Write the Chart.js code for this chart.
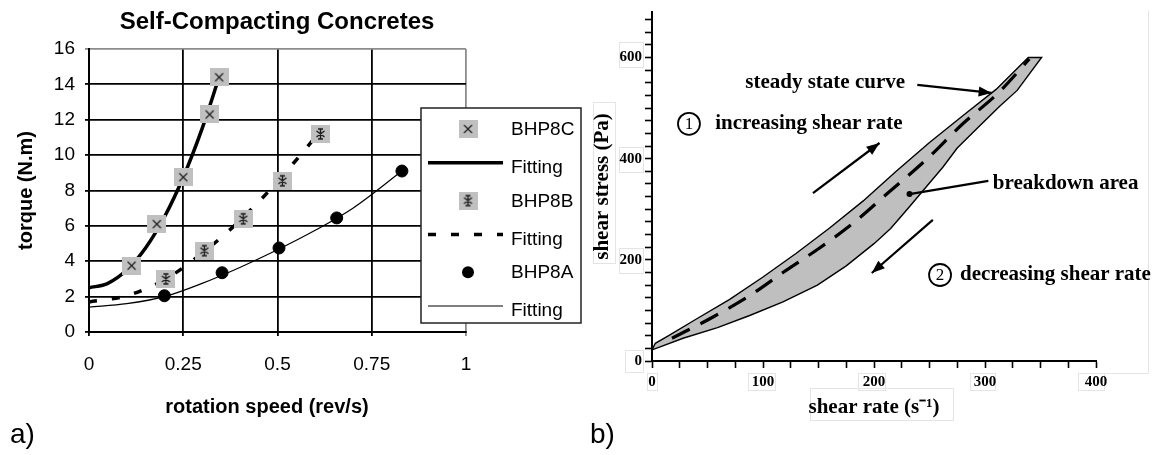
<!DOCTYPE html>
<html>
<head>
<meta charset="utf-8">
<script src="https://cdn.jsdelivr.net/npm/chart.js@4.4.1/dist/chart.umd.min.js"></script>
<style>
  body { margin: 0; background: #fff; width: 1162px; height: 455px; overflow: hidden; position: relative; }
  canvas { position: absolute; top: 0; }
  #rheo { left: 0; }
  #hyst { left: 585px; }
  .tag { position: absolute; top: 420px; font: 28px/28px "Liberation Sans", Arial, sans-serif; color: #000; }
</style>
</head>
<body>
<canvas id="rheo" width="590" height="455"></canvas>
<canvas id="hyst" width="577" height="455"></canvas>
<div class="tag" style="left:10px">a)</div>
<div class="tag" style="left:590px">b)</div>
<script>
// a) torque against rotation speed for the three SCC mixes
const speedC = [0.113, 0.18, 0.25, 0.32, 0.345];
const torqueC = [3.75, 6.1, 8.75, 12.3, 14.4];
const speedB = [0.204, 0.306, 0.409, 0.513, 0.614];
const torqueB = [3.0, 4.6, 6.4, 8.55, 11.2];
const speedA = [0.2, 0.353, 0.504, 0.657, 0.83];
const torqueA = [2.05, 3.35, 4.75, 6.45, 9.1];

// fitted curves
const fitSpeedC = [0, 0.05, 0.1, 0.15, 0.2, 0.25, 0.3, 0.345];
const fitTorqueC = [2.5, 2.75, 3.5, 4.75, 6.5, 8.75, 11.5, 14.4];
const fitSpeedB = [0, 0.1, 0.2, 0.3, 0.4, 0.5, 0.6];
const fitTorqueB = [1.7, 2.05, 2.95, 4.45, 6.3, 8.5, 11.0];
const fitSpeedA = [0, 0.1, 0.2, 0.3, 0.4, 0.5, 0.6, 0.7, 0.83];
const fitTorqueA = [1.4, 1.6, 2.0, 2.75, 3.65, 4.65, 5.75, 7.0, 9.1];

const seriesNames = ['BHP8C', 'Fitting', 'BHP8B', 'Fitting', 'BHP8A', 'Fitting'];
const speedTicks = [0, 0.25, 0.5, 0.75, 1];

// b) hysteresis loop, shear stress against shear rate
const upRate = [0, 3, 15, 40, 70, 100, 130, 160, 190, 220, 250, 280, 310, 339];
const upStress = [22, 35, 50, 83, 122, 166, 213, 263, 316, 375, 432, 485, 537, 600];
const downRate = [0, 28, 59, 88, 118, 149, 175, 200, 215, 230, 250, 262, 275, 293, 313, 329, 351];
const downStress = [22, 45, 66, 90, 117, 150, 188, 232, 262, 300, 352, 383, 421, 460, 503, 535, 600];
const steadyRate = [18, 55, 90, 118, 150, 181, 213, 248, 280, 312, 340];
const steadyStress = [45, 87, 132, 175, 222, 272, 333, 400, 469, 530, 597];
const rateLabels = [0, 100, 200, 300, 400];
const stressLabels = [0, 200, 400, 600];

const sans = '"Liberation Sans", Arial, sans-serif';
const serif = '"Liberation Serif", "Times New Roman", serif';
Chart.defaults.font.family = sans;
Chart.defaults.color = '#000';

const pts = (xs, ys) => xs.map((x, i) => ({ x, y: ys[i] }));

// grey square markers used by the spreadsheet style
function squareMarker(star) {
  const c = document.createElement('canvas');
  c.width = 19; c.height = 18;
  const g = c.getContext('2d');
  g.fillStyle = '#c0c0c0';
  g.fillRect(0, 0, 19, 18);
  g.strokeStyle = '#1a1a1a';
  const cx = 9.5, cy = 9;
  g.beginPath();
  if (star) {
    g.lineWidth = 1.4;
    g.moveTo(cx, cy - 5); g.lineTo(cx, cy + 5);
    g.moveTo(cx - 4, cy - 3); g.lineTo(cx + 4, cy + 3);
    g.moveTo(cx + 4, cy - 3); g.lineTo(cx - 4, cy + 3);
    g.moveTo(cx - 2.5, cy - 5); g.lineTo(cx + 2.5, cy - 5);
    g.moveTo(cx - 2.5, cy + 5); g.lineTo(cx + 2.5, cy + 5);
  } else {
    g.lineWidth = 1.1;
    g.moveTo(cx - 4, cy - 4); g.lineTo(cx + 4, cy + 4);
    g.moveTo(cx + 4, cy - 4); g.lineTo(cx - 4, cy + 4);
  }
  g.stroke();
  return c;
}
const markX = squareMarker(false);
const markStar = squareMarker(true);

// free captions: x in chart-area fraction, y in canvas pixels
const captions = {
  id: 'captions',
  afterDraw(chart, args, o) {
    const { ctx, chartArea } = chart;
    ctx.save();
    ctx.fillStyle = '#000';
    ctx.textAlign = 'center';
    ctx.textBaseline = 'middle';
    o.items.forEach(t => {
      ctx.font = t.font;
      ctx.fillText(t.text, chartArea.left + t.dx, t.y);
    });
    ctx.restore();
  }
};

// boxed legend sitting over the right edge of the plot
const legendBox = {
  id: 'legendBox',
  afterDraw(chart, args, o) {
    const { ctx } = chart;
    ctx.save();
    ctx.fillStyle = '#fff';
    ctx.fillRect(o.left, o.top, o.width, o.height);
    ctx.strokeStyle = '#222';
    ctx.lineWidth = 1.5;
    ctx.strokeRect(o.left, o.top, o.width, o.height);
    ctx.font = o.font;
    ctx.textBaseline = 'middle';
    chart.data.datasets.forEach((ds, i) => {
      const y = o.top + o.first + i * o.step;
      const cx = o.left + o.symbolX;
      if (ds.showLine) {
        ctx.strokeStyle = ds.borderColor;
        ctx.lineWidth = ds.borderWidth;
        ctx.setLineDash(ds.borderDash || []);
        ctx.beginPath();
        ctx.moveTo(o.left + 7, y - 2);
        ctx.lineTo(o.left + 82, y - 2);
        ctx.stroke();
        ctx.setLineDash([]);
      } else if (ds.pointStyle instanceof HTMLCanvasElement) {
        ctx.drawImage(ds.pointStyle, cx - ds.pointStyle.width / 2, y - ds.pointStyle.height / 2);
      } else {
        ctx.fillStyle = ds.backgroundColor;
        ctx.beginPath();
        ctx.arc(cx, y, ds.pointRadius, 0, Math.PI * 2);
        ctx.fill();
      }
      ctx.fillStyle = '#000';
      ctx.fillText(ds.label, o.left + o.textX, y + (ds.showLine ? 3 : 1));
    });
    ctx.restore();
  }
};

const fitLine = {
  showLine: true, pointRadius: 0, borderColor: '#000', backgroundColor: '#000',
  cubicInterpolationMode: 'monotone', order: 1
};

new Chart(document.getElementById('rheo'), {
  type: 'scatter',
  data: {
    datasets: [
      { label: seriesNames[0], data: pts(speedC, torqueC), pointStyle: markX, pointRadius: 9, order: 0 },
      { ...fitLine, label: seriesNames[1], data: pts(fitSpeedC, fitTorqueC), borderWidth: 3.5 },
      { label: seriesNames[2], data: pts(speedB, torqueB), pointStyle: markStar, pointRadius: 9, order: 0 },
      { ...fitLine, label: seriesNames[3], data: pts(fitSpeedB, fitTorqueB), borderWidth: 3.5, borderDash: [8, 15] },
      { label: seriesNames[4], data: pts(speedA, torqueA), pointStyle: 'circle', pointRadius: 6,
        backgroundColor: '#000', borderColor: '#000', order: 0 },
      { ...fitLine, label: seriesNames[5], data: pts(fitSpeedA, fitTorqueA), borderWidth: 1.2 }
    ]
  },
  options: {
    responsive: false,
    animation: false,
    layout: { padding: { top: 49, right: 124, bottom: 0, left: 0 } },
    plugins: {
      legend: { display: false },
      tooltip: { enabled: false },
      captions: {
        items: [
          { text: 'Self-Compacting Concretes', dx: 188, y: 22, font: 'bold 24px ' + sans },
          { text: 'rotation speed (rev/s)', dx: 178, y: 407, font: 'bold 20px ' + sans }
        ]
      },
      legendBox: { left: 421, top: 108, width: 160, height: 215, first: 21, step: 35.8,
                   symbolX: 47, textX: 90, font: '19px ' + sans }
    },
    scales: {
      x: {
        type: 'linear', min: 0, max: 1,
        afterBuildTicks: s => { s.ticks = speedTicks.map(v => ({ value: v })); },
        afterFit: s => { s.height = 123; },
        ticks: { font: { size: 19 }, color: '#000', padding: 17, maxRotation: 0, callback: v => String(v) },
        grid: { color: c => (c.tick && c.tick.value === 1 ? '#8c8c8c' : '#000'), lineWidth: 1.8, tickLength: 4 },
        border: { color: '#000', width: 2 }
      },
      y: {
        type: 'linear', min: 0, max: 16,
        afterFit: s => { s.width = 89; },
        ticks: { stepSize: 2, font: { size: 19 }, color: '#000', padding: 10 },
        grid: { color: c => (c.tick && c.tick.value === 16 ? '#8c8c8c' : '#000'), lineWidth: 1.8, tickLength: 4 },
        border: { color: '#000', width: 2 },
        title: { display: true, text: 'torque (N.m)', color: '#000',
                 font: { size: 20, weight: 'bold' }, padding: { top: 14, bottom: 0 } }
      }
    }
  },
  plugins: [captions, legendBox]
});

// captions, arrows and circled step numbers placed in data units
function arrow(ctx, a, b, head) {
  ctx.beginPath();
  ctx.moveTo(a[0], a[1]);
  ctx.lineTo(b[0], b[1]);
  ctx.stroke();
  if (!head) return;
  const ang = Math.atan2(b[1] - a[1], b[0] - a[0]);
  ctx.beginPath();
  ctx.moveTo(b[0], b[1]);
  ctx.lineTo(b[0] - 13 * Math.cos(ang) + 5 * Math.sin(ang), b[1] - 13 * Math.sin(ang) - 5 * Math.cos(ang));
  ctx.lineTo(b[0] - 13 * Math.cos(ang) - 5 * Math.sin(ang), b[1] - 13 * Math.sin(ang) + 5 * Math.cos(ang));
  ctx.closePath();
  ctx.fill();
}

const notes = {
  id: 'notes',
  beforeDraw(chart, args, o) {
    // pale frames left over from the text boxes of the drawing
    const { ctx } = chart;
    ctx.save();
    ctx.strokeStyle = '#e4e4e4';
    ctx.lineWidth = 1;
    o.frames.forEach(f => ctx.strokeRect(f[0] + 0.5, f[1] + 0.5, f[2], f[3]));
    ctx.beginPath();
    o.edges.forEach(e => { ctx.moveTo(e[0] + 0.5, e[1] + 0.5); ctx.lineTo(e[2] + 0.5, e[3] + 0.5); });
    ctx.stroke();
    ctx.restore();
  },
  afterDatasetsDraw(chart, args, o) {
    const { ctx, scales: { x, y } } = chart;
    const px = p => [x.getPixelForValue(p[0]), y.getPixelForValue(p[1])];
    ctx.save();
    ctx.fillStyle = '#000';
    ctx.strokeStyle = '#000';
    ctx.textBaseline = 'middle';
    ctx.textAlign = 'left';
    ctx.font = o.font;
    o.texts.forEach(t => {
      const p = px(t.at);
      ctx.fillText(t.text, p[0], p[1]);
    });
    ctx.lineWidth = 2.2;
    o.arrows.forEach(a => arrow(ctx, px(a.from), px(a.to), a.head));
    o.dots.forEach(d => {
      const p = px(d);
      ctx.beginPath();
      ctx.arc(p[0], p[1], 3, 0, Math.PI * 2);
      ctx.fill();
    });
    ctx.font = o.digitFont;
    ctx.textAlign = 'center';
    ctx.lineWidth = 1.8;
    o.circled.forEach(c => {
      const p = px(c.at);
      ctx.beginPath();
      ctx.arc(p[0], p[1], 11, 0, Math.PI * 2);
      ctx.stroke();
      ctx.fillText(c.text, p[0], p[1] + 1);
    });
    ctx.restore();
  }
};

const loop = pts(upRate, upStress).concat(pts(downRate, downStress).reverse());

new Chart(document.getElementById('hyst'), {
  type: 'scatter',
  data: {
    datasets: [
      { data: loop, showLine: true, fill: 'shape', backgroundColor: '#bfbfbf', borderColor: '#000',
        borderWidth: 1.4, pointRadius: 0, tension: 0, order: 1 },
      { data: pts(steadyRate, steadyStress), showLine: true, fill: false, borderColor: '#000',
        borderWidth: 3.2, borderDash: [20, 12], pointRadius: 0, cubicInterpolationMode: 'monotone', order: 0 }
    ]
  },
  options: {
    responsive: false,
    animation: false,
    layout: { padding: { top: 12, right: 66, bottom: 0, left: 0 } },
    plugins: {
      legend: { display: false },
      tooltip: { enabled: false },
      notes: {
        font: 'bold 21px ' + serif,
        digitFont: '17px ' + serif,
        texts: [
          { text: 'steady state curve', at: [84, 550] },
          { text: 'increasing shear rate', at: [57, 469] },
          { text: 'breakdown area', at: [307, 350] },
          { text: 'decreasing shear rate', at: [277.5, 170] }
        ],
        circled: [
          { text: '1', at: [33.3, 469] },
          { text: '2', at: [259.5, 170] }
        ],
        arrows: [
          { from: [239, 546], to: [306, 530], head: true },
          { from: [145, 332], to: [205, 431], head: true },
          { from: [253, 279], to: [198, 174], head: true },
          { from: [303, 356], to: [232, 330], head: false }
        ],
        dots: [[232, 330]],
        frames: [
          [34, 42, 24, 25], [34, 147, 24, 25], [34, 248, 24, 25], [40, 350, 18, 22],
          [62, 373, 10, 17], [163, 373, 27, 17], [273, 373, 27, 17], [385, 373, 25, 17], [493, 373, 26, 17],
          [8, 102, 22, 161], [225, 388, 143, 32]
        ],
        edges: [[563, 10, 563, 373], [520, 373, 563, 373]]
      }
    },
    scales: {
      x: {
        type: 'linear', min: 0, max: 400,
        afterFit: s => { s.height = 94; },
        ticks: { stepSize: 25, includeBounds: false, autoSkip: false, maxRotation: 0, padding: 5, color: '#000',
                 font: { family: serif, size: 15, weight: 'bold' },
                 callback: v => (rateLabels.includes(v) ? v : '') },
        grid: { drawOnChartArea: false, tickLength: 7, tickWidth: 1.6, tickColor: '#000' },
        border: { color: '#000', width: 2 },
        title: { display: true, text: 'shear rate (s⁻¹)', color: '#000',
                 font: { family: serif, size: 21, weight: 'bold' }, padding: { top: 0, bottom: 35 } }
      },
      y: {
        type: 'linear', min: 0, max: 690,
        afterFit: s => { s.width = 67; },
        ticks: { stepSize: 25, includeBounds: false, autoSkip: false, padding: 3, color: '#000',
                 font: { family: serif, size: 15, weight: 'bold' },
                 callback: v => (stressLabels.includes(v) ? v : '') },
        grid: { drawOnChartArea: false, tickLength: 7, tickWidth: 1.6, tickColor: '#000' },
        border: { color: '#000', width: 2 },
        title: { display: true, text: 'shear stress (Pa)', color: '#000',
                 font: { family: serif, size: 21, weight: 'bold' }, padding: { top: 5, bottom: 0 } }
      }
    }
  },
  plugins: [notes]
});
</script>
</body>
</html>
